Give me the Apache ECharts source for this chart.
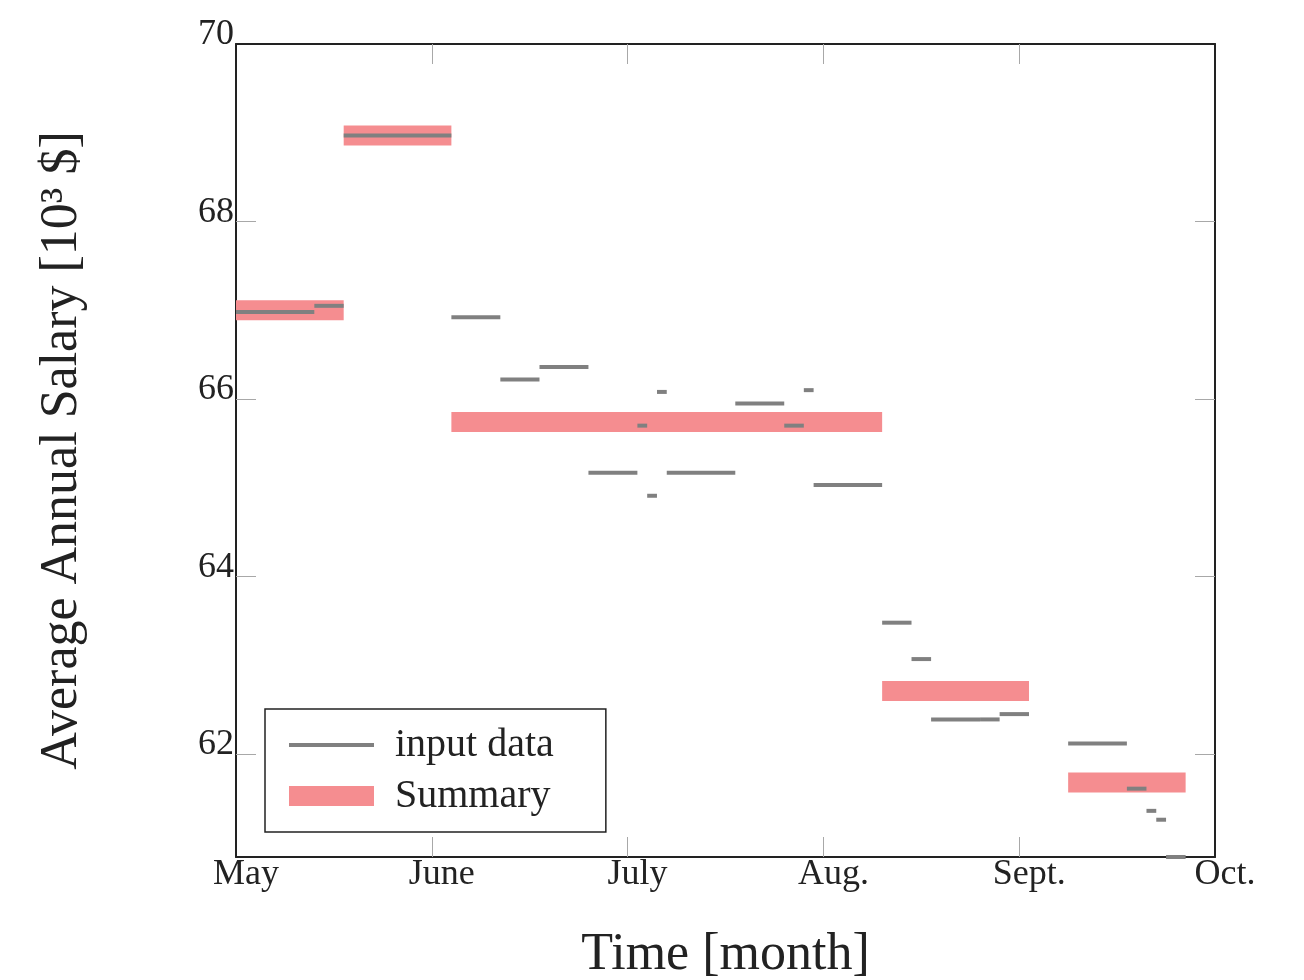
<!DOCTYPE html>
<html>
<head>
<meta charset="utf-8">
<script src="https://cdn.jsdelivr.net/npm/echarts@6/dist/echarts.min.js"></script>
<style>
html,body{margin:0;padding:0;background:#fff;}
#chart{width:1304px;height:980px;}
</style>
</head>
<body>
<div id="chart"></div>
<script>
// Month axis: 0 = May ... 5 = Oct
const monthLabels = ['May', 'June', 'July', 'Aug.', 'Sept.', 'Oct.'];
const yLabelValues = [62, 64, 66, 68, 70];
const yTickValues = [62, 64, 66, 68];
const xTickValues = [1, 2, 3, 4];

// input data segments (start month, end month, value in 10^3 $)
const inputStart = [0, 0.4, 0.55, 1.1, 1.35, 1.55, 1.8, 2.05, 2.1, 2.15, 2.2, 2.55, 2.8, 2.9, 2.95, 3.3, 3.45, 3.55, 3.8, 3.9, 4.25, 4.55, 4.65, 4.7, 4.75];
const inputEnd   = [0.4, 0.55, 1.1, 1.35, 1.55, 1.8, 2.05, 2.1, 2.15, 2.2, 2.55, 2.8, 2.9, 2.95, 3.3, 3.45, 3.55, 3.8, 3.9, 4.05, 4.55, 4.65, 4.7, 4.75, 4.85];
const inputValue = [66.98, 67.05, 68.97, 66.92, 66.22, 66.36, 65.17, 65.70, 64.91, 66.08, 65.17, 65.95, 65.70, 66.10, 65.03, 63.48, 63.07, 62.39, 62.39, 62.45, 62.12, 61.61, 61.36, 61.26, 60.84];

// summary segments
const summaryStart = [0, 0.55, 1.1, 3.3, 4.25];
const summaryEnd   = [0.55, 1.1, 3.3, 4.05, 4.85];
const summaryValue = [67.0, 68.97, 65.74, 62.71, 61.68];

const FONT = 'Liberation Serif';
const GRAY = '#808080';
const PINK = '#f58d90';

const series = [];
summaryStart.forEach((s, i) => {
  series.push({
    name: 'Summary', type: 'line', symbol: 'none', silent: true, z: 2,
    lineStyle: { color: PINK, width: 20, cap: 'butt' },
    itemStyle: { color: PINK },
    data: [[s, summaryValue[i]], [summaryEnd[i], summaryValue[i]]]
  });
});
inputStart.forEach((s, i) => {
  series.push({
    name: 'input data', type: 'line', symbol: 'none', silent: true, z: 3,
    lineStyle: { color: GRAY, width: 4, cap: 'butt' },
    itemStyle: { color: GRAY },
    data: [[s, inputValue[i]], [inputEnd[i], inputValue[i]]]
  });
});

const axisLine = { show: true, onZero: false, lineStyle: { color: '#222', width: 2 } };
const tickStyle = { color: '#a8a8a8', width: 1 };

const option = {
  animation: false,
  backgroundColor: '#fff',
  grid: { left: 236, right: 89, top: 44, bottom: 123, containLabel: false, outerBoundsMode: 'none' },
  legend: {
    orient: 'vertical',
    left: 265, top: 709,
    padding: [16, 52, 16, 24],
    itemGap: 11,
    itemWidth: 85, itemHeight: 20,
    borderColor: '#222', borderWidth: 1.5, borderRadius: 0,
    backgroundColor: '#fff',
    textStyle: { fontFamily: FONT, fontSize: 40, color: '#222', lineHeight: 40, padding: [0, 0, 0, 16] },
    data: [
      { name: 'input data', icon: 'path://M0,0 M0,8 L85,8 L85,12 L0,12 Z M85,20', itemStyle: { color: GRAY } },
      { name: 'Summary', icon: 'rect', itemStyle: { color: PINK } }
    ]
  },
  xAxis: [
    {
      type: 'value', position: 'bottom', min: 0, max: 5, interval: 1,
      name: 'Time [month]', nameLocation: 'middle', nameGap: 72,
      nameTextStyle: { fontFamily: FONT, fontSize: 52, color: '#222' },
      axisLine: axisLine,
      axisTick: { show: true, inside: true, length: 20, lineStyle: tickStyle, customValues: xTickValues },
      axisLabel: {
        show: true, margin: 0, fontFamily: FONT, fontSize: 36, color: '#222',
        padding: [0, 0, 0, 20],
        formatter: v => monthLabels[Math.round(v)] || ''
      },
      splitLine: { show: false }
    },
    {
      type: 'value', position: 'top', min: 0, max: 5, interval: 1,
      axisLine: axisLine,
      axisTick: { show: true, inside: true, length: 20, lineStyle: tickStyle, customValues: xTickValues },
      axisLabel: { show: false },
      splitLine: { show: false }
    }
  ],
  yAxis: [
    {
      type: 'value', position: 'left', min: 60.84, max: 70,
      name: 'Average Annual Salary [10³ $]', nameLocation: 'middle', nameGap: 148,
      nameTextStyle: { fontFamily: FONT, fontSize: 52, color: '#222' },
      axisLine: axisLine,
      axisTick: { show: true, inside: true, length: 20, lineStyle: tickStyle, customValues: yTickValues },
      axisLabel: {
        show: true, margin: 2, fontFamily: FONT, fontSize: 36, color: '#222',
        verticalAlign: 'bottom', lineHeight: 18, customValues: yLabelValues,
        formatter: v => String(Math.round(v))
      },
      splitLine: { show: false }
    },
    {
      type: 'value', position: 'right', min: 60.84, max: 70,
      axisLine: axisLine,
      axisTick: { show: true, inside: true, length: 20, lineStyle: tickStyle, customValues: yTickValues },
      axisLabel: { show: false, customValues: yLabelValues },
      splitLine: { show: false }
    }
  ],
  series: series
};

const chart = echarts.init(document.getElementById('chart'), null, { renderer: 'canvas' });
chart.setOption(option);
</script>
</body>
</html>
